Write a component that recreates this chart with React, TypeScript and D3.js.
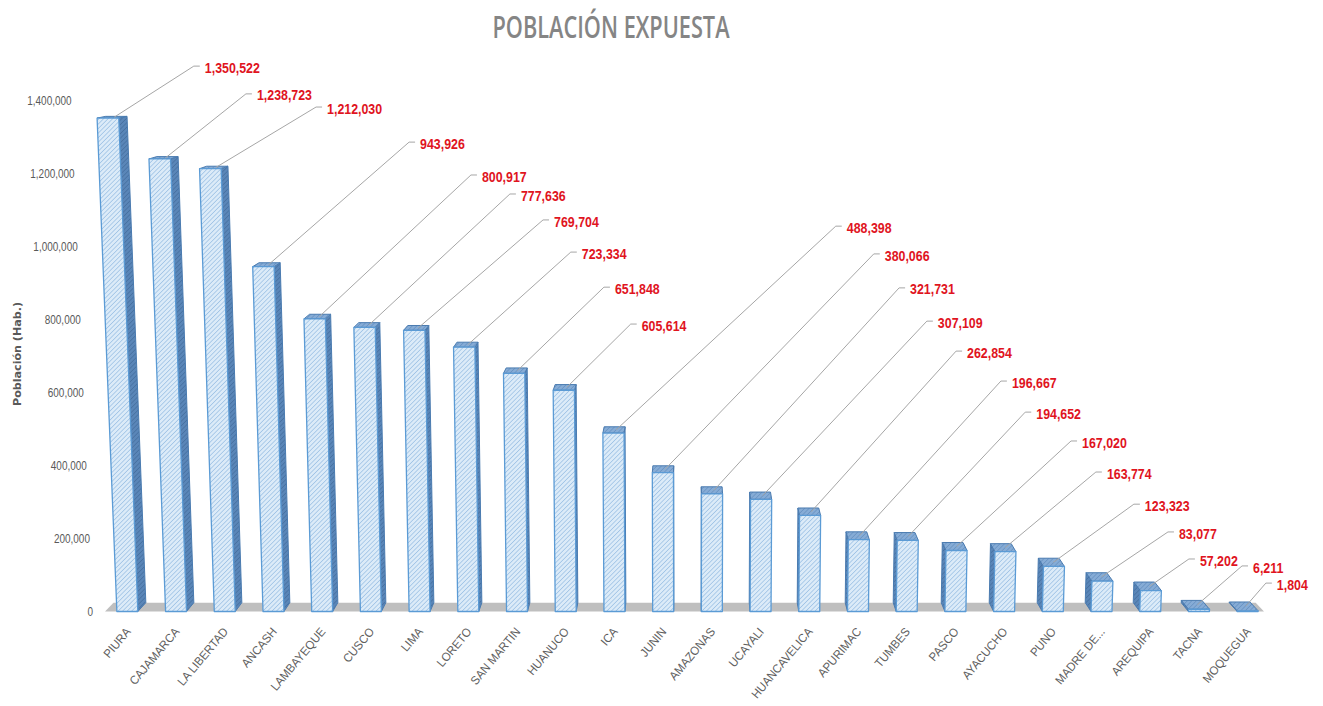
import * as d3 from "d3";

const regions = [
  "PIURA", "CAJAMARCA", "LA LIBERTAD", "ANCASH", "LAMBAYEQUE", "CUSCO", "LIMA", "LORETO",
  "SAN MARTIN", "HUANUCO", "ICA", "JUNIN", "AMAZONAS", "UCAYALI", "HUANCAVELICA", "APURIMAC",
  "TUMBES", "PASCO", "AYACUCHO", "PUNO", "MADRE DE...", "AREQUIPA", "TACNA", "MOQUEGUA",
];

const population = [
  1350522, 1238723, 1212030, 943926, 800917, 777636, 769704, 723334,
  651848, 605614, 488398, 380066, 321731, 307109, 262854, 196667,
  194652, 167020, 163774, 123323, 83077, 57202, 6211, 1804,
];

const yTicks = [0, 200000, 400000, 600000, 800000, 1000000, 1200000, 1400000];

// where each data label was dragged to, in chart units: [category position, value]
const calloutAt: [number, number][] = [
  [1.59, 1490000], [2.66, 1414000], [4.1, 1378000], [6.01, 1282000], [7.28, 1192000],
  [8.08, 1140000], [8.76, 1069000], [9.33, 981000], [10.01, 885000], [10.56, 784000],
  [14.77, 1052000], [15.55, 976000], [16.07, 883000], [16.64, 792000], [17.24, 710000],
  [18.16, 628000], [18.66, 543000], [19.6, 464000], [20.11, 379000], [20.89, 291000],
  [21.59, 215000], [22.02, 141000], [23.11, 122000], [23.6, 75000],
];

const W = 1323;
const H = 706;

const fmt = d3.format(",");

export default function App() {
  const x = d3.scaleBand<string>().domain(regions).range([103, 1272]).paddingInner(0.57).paddingOuter(0.285);
  const y = d3.scaleLinear().domain([0, 1400000]).range([611.5, 100]);
  const bw = x.bandwidth();
  const pos = d3
    .scaleLinear()
    .domain([0, regions.length - 1])
    .range([x(regions[0])! + bw / 2, x(regions[regions.length - 1])! + bw / 2]);

  // fake 3D: columns spread out towards the top, back faces shrink towards a point above
  const Y0 = y(0);
  const CX = 690;
  const K = 7e-5;
  const VX = 690;
  const VY = 0;
  const S = 0.9855;
  const proj = (px: number, py: number, back = false): [number, number] => {
    let sx = CX + (px - CX) * (1 + K * (Y0 - py));
    let sy = py;
    if (back) {
      sx = VX + (sx - VX) * S;
      sy = VY + (sy - VY) * S;
    }
    return [sx, sy];
  };
  const poly = (pts: [number, number][]) => pts.map((p) => p.join(",")).join(" ");

  const [r0, r1] = x.range();
  const floor = [proj(r0 + 2, Y0), proj(r1 - 8, Y0), proj(r1 - 8, Y0, true), proj(r0 + 2, Y0, true)];

  const bars = regions.map((r, i) => {
    const x0 = x(r)!;
    const x1 = x0 + bw;
    const yt = y(population[i]);
    const FTL = proj(x0, yt), FTR = proj(x1, yt), FBL = proj(x0, Y0), FBR = proj(x1, Y0);
    const BTL = proj(x0, yt, true), BTR = proj(x1, yt, true), BBL = proj(x0, Y0, true), BBR = proj(x1, Y0, true);
    const leftOfVp = x0 + bw / 2 < VX;
    const side = leftOfVp ? [FTR, BTR, BBR, FBR] : [FTL, BTL, BBL, FBL];
    const top = [FTL, FTR, BTR, BTL];
    const front = [FTL, FTR, FBR, FBL];
    const anchor: [number, number] = [
      (FTL[0] + FTR[0] + BTR[0] + BTL[0]) / 4 + 2,
      (FTL[1] + FTR[1] + BTR[1] + BTL[1]) / 4,
    ];
    return { r, i, side, top, front, anchor, cx: x0 + bw / 2 };
  });

  const stroke = "#5b9bd5";

  return (
    <svg width={W} height={H} style={{ position: "absolute", left: 0, top: 0, background: "#fff" }}>
      <defs>
        <pattern id="hFront" width={3.2} height={3.2} patternUnits="userSpaceOnUse" patternTransform="rotate(45)">
          <rect width={3.2} height={3.2} fill="#dcebf8" />
          <line x1={0} y1={0} x2={0} y2={3.2} stroke="#86b3de" strokeWidth={1.1} />
        </pattern>
        <pattern id="hSide" width={3.2} height={3.2} patternUnits="userSpaceOnUse" patternTransform="rotate(45)">
          <rect width={3.2} height={3.2} fill="#5a86b8" />
          <line x1={0} y1={0} x2={0} y2={3.2} stroke="#3e6897" strokeWidth={1.1} />
        </pattern>
        <pattern id="hTop" width={3.2} height={3.2} patternUnits="userSpaceOnUse" patternTransform="rotate(45)">
          <rect width={3.2} height={3.2} fill="#86acd6" />
          <line x1={0} y1={0} x2={0} y2={3.2} stroke="#5f89bb" strokeWidth={1.1} />
        </pattern>
      </defs>

      <text
        x={611}
        y={38}
        textAnchor="middle"
        fontFamily="'Open Sans', 'Liberation Sans', sans-serif"
        fontWeight={600}
        fontSize={30}
        fill="#858585"
        textLength={237}
        lengthAdjust="spacingAndGlyphs"
      >
        POBLACIÓN EXPUESTA
      </text>

      <text
        transform="translate(21,354) rotate(-90)"
        textAnchor="middle"
        fontFamily="'DejaVu Sans', sans-serif"
        fontWeight="bold"
        fontSize={11}
        fill="#595959"
        textLength={104}
        lengthAdjust="spacingAndGlyphs"
      >
        Población (Hab.)
      </text>

      {yTicks.map((t) => {
        const [tx, ty] = proj(93, y(t));
        return (
          <g key={t} transform={`translate(${tx},${ty}) scale(0.74,1)`}>
            <text textAnchor="end" dy="0.35em" fontFamily="'Liberation Sans', sans-serif" fontSize={13.5} fill="#595959">
              {fmt(t)}
            </text>
          </g>
        );
      })}

      <polygon points={poly(floor)} fill="#bfbfbf" />

      {bars.map((b) => (
        <g key={b.r} stroke={stroke} strokeWidth={1} strokeLinejoin="round">
          <polygon points={poly(b.side)} fill="url(#hSide)" stroke="#4a7bb0" />
          <polygon points={poly(b.top)} fill="url(#hTop)" stroke="#4a7bb0" />
          <polygon points={poly(b.front)} fill="url(#hFront)" strokeWidth={1.3} />
        </g>
      ))}

      {bars.map((b) => {
        const [f, v] = calloutAt[b.i];
        const lx = pos(f);
        const ly = y(v);
        return (
          <g key={"c" + b.r}>
            <polyline
              points={poly([b.anchor, [lx - 11, ly - 1], [lx - 5, ly - 1]])}
              fill="none"
              stroke="#a6a6a6"
              strokeWidth={1}
            />
            <g transform={`translate(${lx},${ly}) scale(0.8,1)`}>
              <text
                dy="0.36em"
                fontFamily="'Liberation Sans', sans-serif"
                fontWeight="bold"
                fontSize={15.5}
                fill="#e0141e"
              >
                {fmt(population[b.i])}
              </text>
            </g>
          </g>
        );
      })}

      {bars.map((b) => (
        <g key={"l" + b.r} transform={`translate(${b.cx + 4},${632}) rotate(-50) scale(0.95,1)`}>
          <text textAnchor="end" fontFamily="'Liberation Sans', sans-serif" fontSize={12} fill="#5f5f5f">
            {b.r}
          </text>
        </g>
      ))}
    </svg>
  );
}
